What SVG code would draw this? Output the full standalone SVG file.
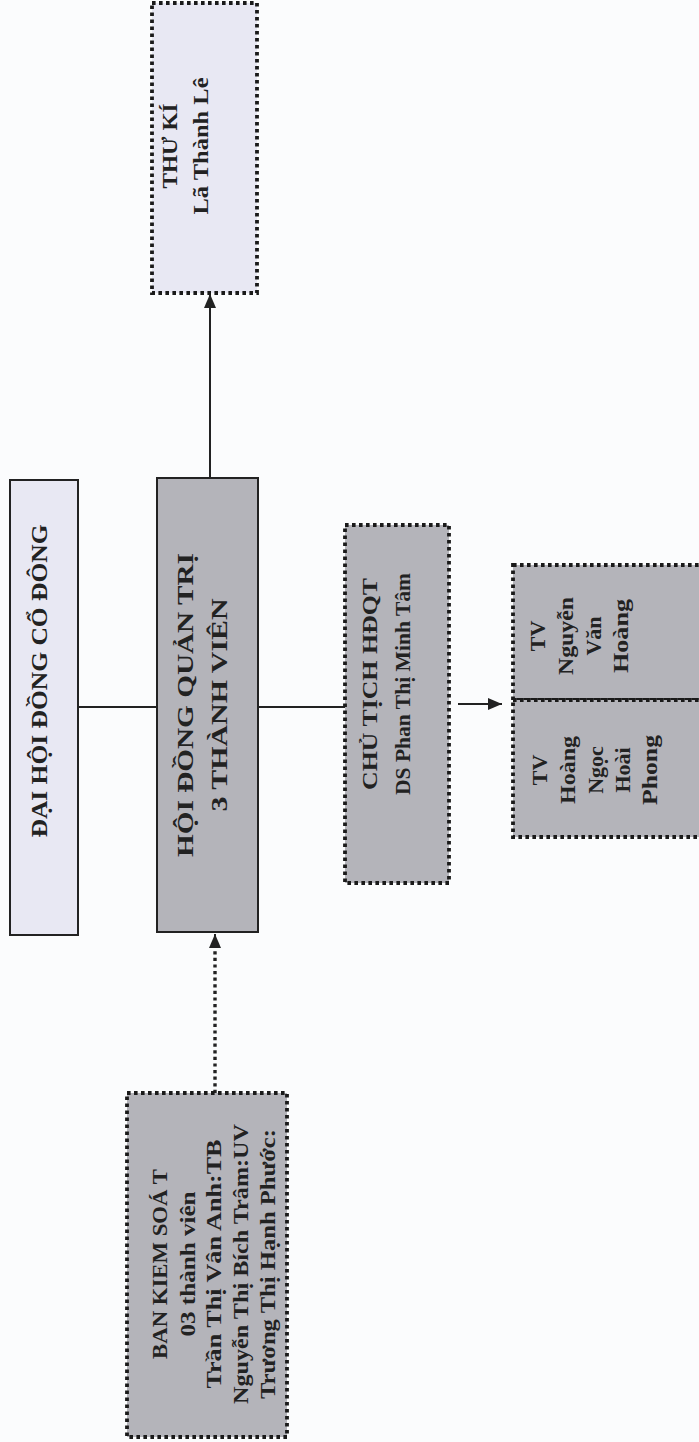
<svg xmlns="http://www.w3.org/2000/svg" width="699" height="1442" viewBox="0 0 699 1442">
<defs>
<marker id="ah" markerUnits="userSpaceOnUse" markerWidth="14" markerHeight="12" viewBox="0 0 14 12" refX="14" refY="6" orient="auto">
<path d="M0,0 L14,6 L0,12 Z" fill="#222"/>
</marker>
<style>
.light{fill:#e8e8f3}
.grey{fill:#b4b4ba}
.solid{stroke:#222;stroke-width:2}
.dot{stroke:#1a1a1a;stroke-width:3.8;stroke-dasharray:3.6 3.4}
.t{font-family:"Liberation Serif","Times New Roman",serif;font-weight:bold;fill:#222;text-anchor:middle}
.conn{stroke:#222;stroke-width:2;fill:none}
.conndot{stroke:#222;stroke-width:3.4;stroke-dasharray:3.2 3.4;fill:none}
</style>
</defs>
<rect width="699" height="1442" fill="#fbfcfd"/>
<g id="connectors">
<line class="conn" x1="78" y1="707" x2="157" y2="707"/>
<line class="conn" x1="258" y1="707" x2="345" y2="707"/>
<line class="conn" x1="210" y1="478" x2="210" y2="294" marker-end="url(#ah)"/>
<line class="conn" x1="458" y1="704" x2="502" y2="704" marker-end="url(#ah)"/>
<line class="conndot" x1="215" y1="1093" x2="215" y2="946"/>
<line class="conn" x1="215" y1="946" x2="215" y2="934" marker-end="url(#ah)" stroke-width="1"/>
</g>
<g id="dai-hoi">
<rect class="light solid" x="10" y="480" width="68" height="455"/>
<text class="t" font-size="24" transform="translate(47,681) rotate(-90)"><tspan x="0" y="0" textLength="313" lengthAdjust="spacingAndGlyphs">ĐẠI HỘI ĐỒNG CỔ ĐÔNG</tspan></text>
</g>
<g id="hdqt">
<rect class="grey solid" x="157" y="478" width="101" height="454"/>
<text class="t" font-size="24" transform="translate(193,705) rotate(-90)"><tspan x="0" y="0" textLength="304" lengthAdjust="spacingAndGlyphs">HỘI ĐỒNG QUẢN TRỊ</tspan><tspan x="0" y="34" textLength="213" lengthAdjust="spacingAndGlyphs">3 THÀNH VIÊN</tspan></text>
</g>
<g id="chu-tich">
<rect class="grey dot" x="345" y="525" width="104" height="358"/>
<text class="t" font-size="22" transform="translate(377,684) rotate(-90)"><tspan x="0" y="0" textLength="212" lengthAdjust="spacingAndGlyphs">CHỦ TỊCH HĐQT</tspan><tspan x="0" y="33" textLength="222" lengthAdjust="spacingAndGlyphs">DS Phan Thị Minh Tâm</tspan></text>
</g>
<g id="tv-hoang">
<rect class="grey dot" x="513" y="565" width="195" height="135"/>
<text class="t" font-size="22" transform="translate(545,636) rotate(-90)"><tspan x="0" y="0">TV</tspan><tspan x="0" y="28" textLength="78" lengthAdjust="spacingAndGlyphs">Nguyễn</tspan><tspan x="0" y="56">Văn</tspan><tspan x="0" y="83" textLength="74" lengthAdjust="spacingAndGlyphs">Hoàng</tspan></text>
</g>
<g id="tv-phong">
<rect class="grey dot" x="513" y="700" width="195" height="137"/>
<text class="t" font-size="22" transform="translate(547,770) rotate(-90)"><tspan x="0" y="0">TV</tspan><tspan x="0" y="28" textLength="68" lengthAdjust="spacingAndGlyphs">Hoàng</tspan><tspan x="0" y="56">Ngọc</tspan><tspan x="0" y="83">Hoài</tspan><tspan x="0" y="110" textLength="70" lengthAdjust="spacingAndGlyphs">Phong</tspan></text>
</g>
<g id="ban-kiem-soat">
<rect class="grey dot" x="127" y="1093" width="160" height="344"/>
<text class="t" font-size="22" transform="translate(167,1264) rotate(-90)"><tspan x="0" y="0" textLength="190" lengthAdjust="spacingAndGlyphs">BAN KIEM SOÁ T</tspan><tspan x="0" y="28" textLength="145" lengthAdjust="spacingAndGlyphs">03 thành viên</tspan><tspan x="0" y="54" textLength="249" lengthAdjust="spacingAndGlyphs">Trần Thị Vân Anh:TB</tspan><tspan x="0" y="81" textLength="280" lengthAdjust="spacingAndGlyphs">Nguyễn Thị Bích Trâm:UV</tspan><tspan x="0" y="108" textLength="270" lengthAdjust="spacingAndGlyphs">Trương Thị Hạnh Phước:</tspan></text>
</g>
<g id="thu-ki">
<rect class="light dot" x="152" y="3" width="105" height="290"/>
<text class="t" font-size="21" transform="translate(177,146) rotate(-90)"><tspan x="0" y="0" textLength="85" lengthAdjust="spacingAndGlyphs">THƯ KÍ</tspan><tspan x="0" y="31" textLength="137" lengthAdjust="spacingAndGlyphs">Lã Thành Lê</tspan></text>
</g>
</svg>
